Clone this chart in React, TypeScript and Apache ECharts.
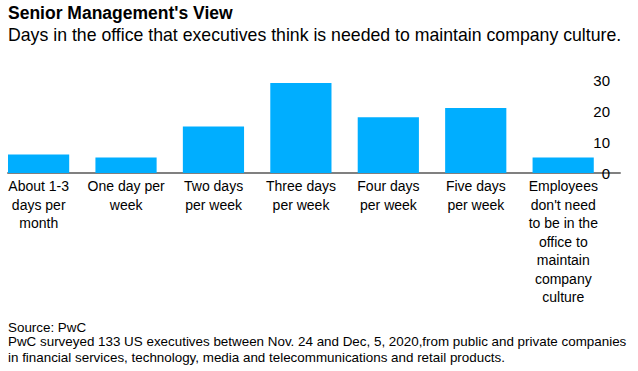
import React, { useEffect, useRef } from "react";
import * as echarts from "echarts";

const categories = [
  "About 1-3\ndays per\nmonth",
  "One day per\nweek",
  "Two days\nper week",
  "Three days\nper week",
  "Four days\nper week",
  "Five days\nper week",
  "Employees\ndon't need\nto be in the\noffice to\nmaintain\ncompany\nculture",
];
const values = [6, 5, 15, 29, 18, 21, 5];
const spacer = [0, 0, 0, 0, 0, 0, 0];
const yTicks = [0, 10, 20, 30];

const titleText = "Senior Management's View";
const subtitleText = "Days in the office that executives think is needed to maintain company culture.";
const sourceText = "Source: PwC";
const noteLines = [
  "PwC surveyed 133 US executives between Nov. 24 and Dec, 5, 2020,from public and private companies",
  "in financial services, technology, media and telecommunications and retail products.",
];

const FONT = "'Liberation Sans', Arial, Helvetica, sans-serif";

export default function App() {
  const ref = useRef<HTMLDivElement>(null);
  useEffect(() => {
    if (!ref.current) return;
    const chart = echarts.init(ref.current, undefined, { renderer: "svg" });
    chart.setOption({
      animation: false,
      backgroundColor: "#ffffff",
      textStyle: { fontFamily: FONT },
      grid: { left: 8, right: 18, top: 80, bottom: 198, outerBoundsMode: "none" },
      xAxis: {
        type: "category",
        data: categories,
        axisLine: { show: true, lineStyle: { color: "#808080", width: 2 } },
        axisTick: { show: false },
        axisLabel: {
          interval: 0,
          color: "#000",
          fontSize: 14,
          lineHeight: 18.5,
          margin: 4,
          padding: [0, 26, 0, 0],
          fontFamily: FONT,
        },
      },
      yAxis: {
        type: "value",
        position: "right",
        min: yTicks[0],
        max: yTicks[yTicks.length - 1],
        interval: 10,
        axisLine: { show: false },
        axisTick: { show: false },
        splitLine: { show: false },
        axisLabel: {
          inside: true,
          margin: 10,
          color: "#000",
          fontSize: 15,
          fontFamily: FONT,
        },
      },
      series: [
        {
          type: "bar",
          data: values,
          barWidth: "70%",
          barGap: "0%",
          itemStyle: { color: "#00aeff" },
          silent: true,
        },
        {
          type: "bar",
          data: spacer,
          barWidth: "30%",
          barGap: "0%",
          itemStyle: { color: "transparent" },
          silent: true,
        },
      ],
      graphic: [
        {
          type: "text",
          left: 8,
          top: 4,
          style: { text: titleText, font: `bold 17.5px ${FONT}`, fill: "#000" },
        },
        {
          type: "text",
          left: 8,
          top: 26,
          style: { text: subtitleText, font: `17.7px ${FONT}`, fill: "#000" },
        },
        {
          type: "text",
          left: 8,
          top: 321,
          style: { text: sourceText, font: `13.4px ${FONT}`, fill: "#000" },
        },
        {
          type: "text",
          left: 8,
          top: 334,
          style: {
            text: noteLines.join("\n"),
            font: `13.4px ${FONT}`,
            lineHeight: 15.5,
            fill: "#000",
          },
        },
      ],
    });
    return () => chart.dispose();
  }, []);
  return (
    <div
      ref={ref}
      style={{ position: "fixed", left: 0, top: 0, width: 638, height: 371 }}
    />
  );
}
